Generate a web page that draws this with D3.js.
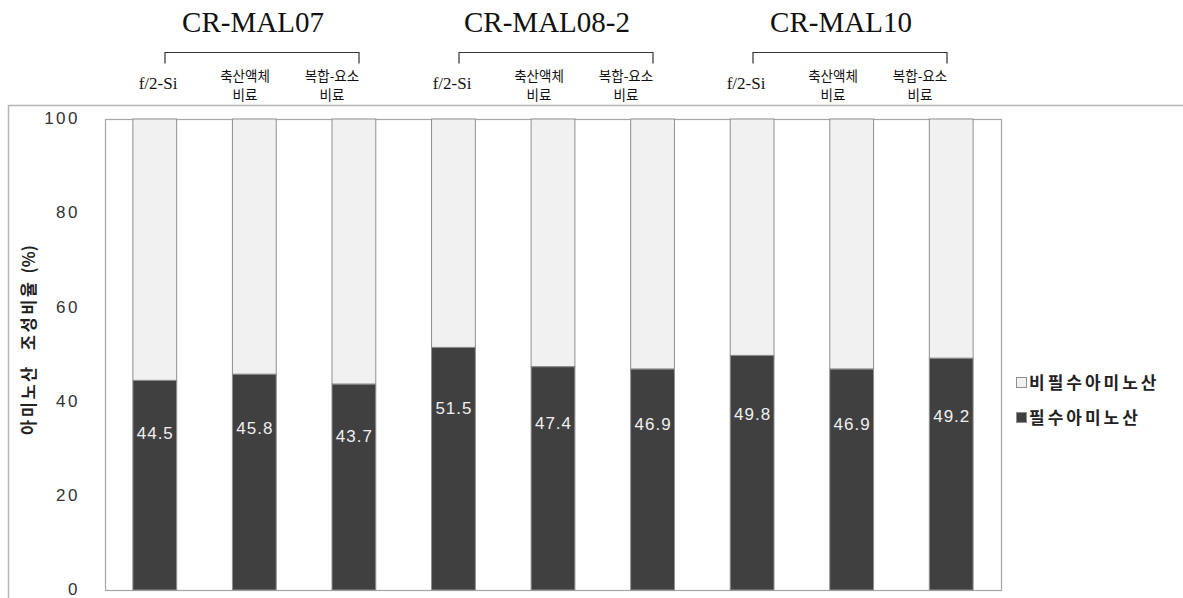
<!DOCTYPE html>
<html>
<head>
<meta charset="utf-8">
<script src="https://cdn.jsdelivr.net/npm/d3@7"></script>
<style>
  html, body { margin: 0; padding: 0; background: #fff; }
  svg { display: block; }
</style>
</head>
<body>
<svg id="chart" width="1183" height="598"></svg>
<script>
// Strains and culture media
const strains = ["CR-MAL07", "CR-MAL08-2", "CR-MAL10"];
const media = ["f/2-Si", "축산액체\n비료", "복합-요소\n비료"];
// Essential amino acid share (%) for each strain × medium, in bar order
const essential = [44.5, 45.8, 43.7, 51.5, 47.4, 46.9, 49.8, 46.9, 49.2];
const yTicks = [0, 20, 40, 60, 80, 100];
const seriesNames = ["비필수아미노산", "필수아미노산"];
const yTitleParts = ["아미노산", "조성비율", "(%)"];

const svg = d3.select("#chart");
const W = 1183, H = 598;
const plot = { left: 105, top: 119, right: 1001, bottom: 590 };

const bars = [];
strains.forEach((s, gi) => media.forEach((m, mi) => {
  const i = gi * media.length + mi;
  bars.push({ key: i, strain: s, medium: m, ess: essential[i], non: 100 - essential[i] });
}));

const x = d3.scaleBand()
  .domain(bars.map(d => d.key))
  .range([plot.left, plot.right])
  .paddingInner(0.56)
  .paddingOuter(0.28);
const y = d3.scaleLinear().domain([0, 100]).range([plot.bottom, plot.top]);

// outer chart frame
svg.append("path")
  .attr("d", `M8.5,${H + 5}V105.5H${W + 5}`)
  .attr("fill", "none").attr("stroke", "#b5b5b5").attr("stroke-width", 1.5);

// plot area border
svg.append("rect")
  .attr("x", plot.left + 0.5).attr("y", plot.top + 0.5)
  .attr("width", plot.right - plot.left).attr("height", plot.bottom - plot.top)
  .attr("fill", "none").attr("stroke", "#a6a6a6").attr("stroke-width", 1.2);

// stacked bars: essential (dark) at bottom, non-essential (light) on top
const g = svg.append("g");
g.selectAll("rect.non").data(bars).join("rect")
  .attr("class", "non")
  .attr("x", d => x(d.key)).attr("width", x.bandwidth())
  .attr("y", y(100)).attr("height", d => y(d.ess) - y(100))
  .attr("fill", "#f1f1f1").attr("stroke", "#8f8f8f").attr("stroke-width", 1);
g.selectAll("rect.ess").data(bars).join("rect")
  .attr("class", "ess")
  .attr("x", d => x(d.key)).attr("width", x.bandwidth())
  .attr("y", d => y(d.ess)).attr("height", d => y(0) - y(d.ess))
  .attr("fill", "#404040").attr("stroke", "#8f8f8f").attr("stroke-width", 1);

// value labels inside the dark segments
g.selectAll("text.val").data(bars).join("text")
  .attr("class", "val")
  .attr("x", d => x(d.key) + x.bandwidth() / 2 + 0.5)
  .attr("y", d => y(d.ess * 0.75))
  .attr("dy", "0.36em")
  .attr("text-anchor", "middle")
  .attr("font-family", "'Liberation Sans', Arial, sans-serif")
  .attr("font-size", 17).attr("letter-spacing", 1)
  .attr("fill", "#f0f0f0")
  .text(d => d.ess.toFixed(1));

// y axis tick labels
svg.append("g").selectAll("text").data(yTicks).join("text")
  .attr("x", 80).attr("y", d => y(d)).attr("dy", "0.3em")
  .attr("text-anchor", "end")
  .attr("font-family", "'Liberation Sans', Arial, sans-serif")
  .attr("font-size", 17).attr("letter-spacing", 2.5).attr("fill", "#333")
  .text(d => d);

// y axis title (hangul words spaced out, unit kept compact)
const yt = svg.append("text")
  .attr("transform", "translate(29,340) rotate(-90)")
  .attr("text-anchor", "middle").attr("dy", "0.35em")
  .attr("font-family", "'Noto Sans CJK KR', sans-serif")
  .attr("font-weight", "bold").attr("font-size", 16.5).attr("fill", "#222");
yt.append("tspan").attr("letter-spacing", 2.5).text(yTitleParts[0]);
yt.append("tspan").attr("dx", 14).attr("letter-spacing", 2.5).text(yTitleParts[1]);
yt.append("tspan").attr("dx", 6).attr("letter-spacing", 0).text(yTitleParts[2]);

// header: strain names, brackets and medium labels
const groupX = d3.scalePoint().domain(strains).range([158, 746]);
const subX = d3.scalePoint().domain(media).range([0, 174]);
const header = svg.append("g");
strains.forEach(s => {
  const gx = groupX(s);
  header.append("text")
    .attr("x", gx + 95).attr("y", 32)
    .attr("text-anchor", "middle")
    .attr("font-family", "'Liberation Serif', 'Times New Roman', serif")
    .attr("font-size", 29).attr("fill", "#111")
    .text(s);
  header.append("path")
    .attr("d", `M${gx + 7},63.5V52.5H${gx + 201}V63.5`)
    .attr("fill", "none").attr("stroke", "#333").attr("stroke-width", 1.2);
  media.forEach(m => {
    const lines = m.split("\n");
    if (lines.length === 1) {
      header.append("text")
        .attr("x", gx + subX(m)).attr("y", 89)
        .attr("text-anchor", "middle").attr("fill", "#111")
        .attr("font-family", "'Liberation Serif', 'Times New Roman', serif")
        .attr("font-size", 17)
        .text(m);
    } else {
      lines.forEach((ln, li) => header.append("text")
        .attr("x", gx + subX(m)).attr("y", 81 + li * 19)
        .attr("text-anchor", "middle").attr("fill", "#111")
        .attr("font-family", "'Noto Sans CJK KR', sans-serif")
        .attr("font-size", 13.5)
        .text(ln));
    }
  });
});

// legend
const legend = svg.append("g").attr("transform", "translate(1016,383)");
const legendFill = ["#f1f1f1", "#404040"];
seriesNames.forEach((n, i) => {
  const row = legend.append("g").attr("transform", `translate(0,${i * 35})`);
  row.append("rect").attr("x", 0.5).attr("y", -5.5).attr("width", 10).attr("height", 10)
    .attr("fill", legendFill[i]).attr("stroke", "#8f8f8f").attr("stroke-width", 1);
  row.append("text").attr("x", 13).attr("dy", "0.36em")
    .attr("font-family", "'Noto Sans CJK KR', sans-serif")
    .attr("font-weight", "bold").attr("font-size", 17)
    .attr("letter-spacing", 3).attr("fill", "#222")
    .text(n);
});
</script>
</body>
</html>
